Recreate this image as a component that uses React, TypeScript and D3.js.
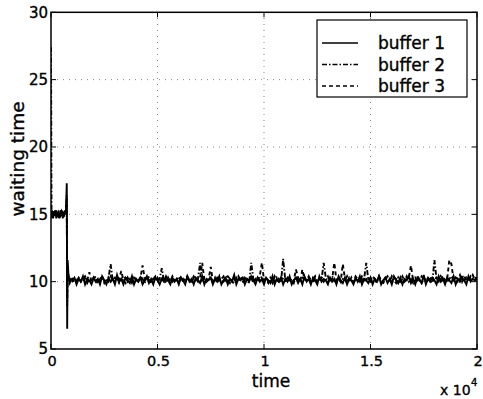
import React from "react";
import * as d3 from "d3";

// ---- data ----
const earlyTimes = [0, 25, 50, 100, 150, 200, 250, 300, 350, 400, 450, 500, 550, 600, 650, 700, 740, 760, 780, 820, 880, 940];
const steadyStart = 1000;
const steadyStep = 100;

const buffer1Early = [15.2, 14.8, 15.3, 14.7, 15.2, 14.9, 15.3, 14.8, 15.1, 14.7, 15.3, 14.9, 15.2, 14.8, 15.3, 15.0, 17.3, 6.5, 11.6, 10.5, 10.0, 10.2];
const buffer2Early = [27.4, 15.1, 14.8, 15.2, 14.9, 15.3, 14.7, 15.1, 15.2, 14.8, 15.0, 15.3, 14.7, 15.1, 14.9, 15.2, 16.4, 8.2, 11.2, 10.3, 10.1, 9.9];
const buffer3Early = [15.0, 14.9, 15.2, 14.8, 15.1, 15.3, 14.9, 15.2, 14.7, 15.1, 14.8, 15.2, 15.0, 14.9, 15.1, 15.2, 15.9, 8.8, 10.9, 10.4, 9.9, 10.1];

const buffer1Steady = [
  10.1, 10.3, 9.8, 10.2, 10.0, 10.4, 9.8, 10.2, 10.1, 9.8,
  10.3, 10.0, 10.2, 9.8, 10.4, 10.1, 9.8, 10.3, 10.0, 10.2,
  9.8, 10.5, 10.0, 10.2, 9.8, 10.3, 10.1, 9.9, 10.4, 9.8,
  10.2, 10.0, 10.3, 9.8, 10.1, 10.4, 9.9, 10.2, 9.8, 10.3,
  10.1, 9.8, 10.2, 10.0, 10.4, 10.1, 9.8, 10.3, 10.0, 10.2,
  9.8, 10.3, 10.1, 9.8, 10.4, 10.0, 10.2, 9.8, 10.3, 10.1,
  9.9, 10.4, 9.8, 10.2, 10.1, 10.3, 9.8, 10.2, 10.0, 10.4,
  9.8, 10.1, 10.3, 9.8, 10.2, 10.0, 10.5, 9.8, 10.2, 10.1,
  10.3, 9.8, 10.2, 10.0, 10.4, 10.1, 9.8, 10.3, 10.0, 10.2,
  9.8, 10.3, 10.1, 9.9, 10.4, 9.8, 10.2, 10.0, 10.3, 9.8,
  10.2, 10.0, 10.4, 9.8, 10.1, 10.3, 9.9, 10.2, 9.8, 10.4,
  10.0, 10.2, 9.8, 10.3, 10.1, 9.8, 10.4, 10.0, 10.2, 10.1,
  9.8, 10.3, 10.0, 10.2, 9.8, 10.4, 10.1, 9.9, 10.3, 9.8,
  10.2, 10.1, 9.8, 10.3, 10.0, 10.4, 9.8, 10.2, 10.1, 9.9,
  10.3, 9.8, 10.2, 10.0, 10.4, 9.8, 10.1, 10.3, 9.9, 10.2,
  9.8, 10.4, 10.1, 9.9, 10.3, 9.8, 10.2, 10.1, 10.4, 9.9,
  10.2, 9.8, 10.3, 10.1, 9.9, 10.5, 9.8, 10.2, 10.0, 10.3,
  10.1, 9.8, 10.4, 10.0, 10.2, 9.8, 10.3, 10.1, 9.9, 10.4,
  9.8, 10.2, 10.0, 10.3, 10.1, 9.8, 10.4, 10.0, 10.2, 10.1,
  10.2,
];

const buffer2Steady = [
  10.0, 10.2, 9.9, 10.3, 10.1, 10.0, 10.4, 9.9, 10.2, 10.1,
  10.3, 10.0, 9.9, 10.2, 10.4, 10.0, 10.1, 10.3, 11.3, 10.1,
  10.0, 10.3, 9.9, 10.2, 10.1, 10.4, 10.0, 10.2, 9.9, 10.3,
  10.1, 10.0, 10.4, 10.2, 9.9, 10.3, 10.1, 10.0, 10.2, 10.4,
  10.0, 10.2, 11.0, 10.1, 9.9, 10.3, 10.0, 10.4, 10.1, 10.2,
  9.9, 10.3, 10.0, 10.2, 10.4, 10.1, 9.9, 10.3, 10.0, 10.2,
  11.4, 10.1, 10.3, 10.0, 10.2, 10.4, 9.9, 10.1, 10.3, 10.0,
  10.2, 10.4, 10.0, 10.1, 9.9, 10.3, 10.2, 10.0, 10.4, 10.1,
  10.0, 10.3, 10.1, 9.9, 11.4, 10.2, 10.0, 10.3, 10.1, 10.4,
  10.0, 10.2, 9.9, 10.3, 10.1, 10.0, 10.4, 10.2, 10.0, 11.7,
  10.1, 10.3, 10.0, 10.2, 9.9, 10.4, 10.1, 10.0, 10.3, 10.2,
  10.0, 10.4, 10.1, 9.9, 10.3, 10.0, 10.2, 10.1, 11.4, 10.3,
  10.0, 10.2, 10.4, 10.1, 9.9, 10.3, 10.0, 10.2, 10.1, 10.4,
  10.0, 10.3, 9.9, 10.2, 10.1, 10.0, 10.4, 10.2, 11.4, 10.1,
  10.3, 10.0, 10.2, 9.9, 10.4, 10.1, 10.0, 10.3, 10.2, 10.0,
  10.4, 10.1, 9.9, 10.3, 10.0, 10.2, 10.1, 10.4, 10.0, 10.2,
  9.9, 10.3, 10.1, 10.0, 10.4, 10.2, 10.0, 10.3, 10.1, 9.9,
  11.6, 10.2, 10.0, 10.4, 10.1, 10.3, 10.0, 10.2, 10.4, 10.1,
  10.3, 10.0, 10.2, 10.5, 10.1, 10.3, 10.0, 10.4, 10.2, 10.3,
  10.2,
];

const buffer3Steady = [
  10.2, 9.9, 10.1, 10.3, 10.0, 10.2, 10.4, 10.1, 10.7, 10.0,
  10.2, 10.4, 10.0, 10.1, 10.3, 9.9, 10.2, 10.0, 10.4, 10.1,
  10.3, 10.0, 10.2, 10.8, 10.1, 9.9, 10.3, 10.0, 10.2, 10.4,
  10.0, 10.1, 10.3, 11.2, 10.2, 10.0, 10.4, 9.9, 10.2, 10.1,
  10.3, 10.0, 10.2, 10.4, 10.1, 9.9, 10.3, 10.0, 10.2, 10.1,
  10.4, 10.0, 10.2, 9.9, 10.3, 10.1, 10.0, 10.4, 10.2, 10.0,
  10.3, 11.4, 10.1, 10.0, 10.2, 11.1, 10.0, 10.3, 9.9, 10.2,
  10.1, 10.0, 10.3, 10.4, 10.2, 10.0, 9.9, 10.3, 10.1, 10.2,
  10.4, 10.0, 10.2, 10.1, 10.3, 9.9, 10.2, 10.0, 10.4, 11.4,
  10.1, 10.3, 10.0, 10.2, 9.9, 10.4, 10.1, 10.0, 10.3, 10.2,
  10.0, 10.4, 10.2, 9.9, 10.1, 10.9, 10.3, 10.0, 10.9, 10.2,
  10.1, 10.3, 10.0, 10.2, 10.4, 9.9, 10.1, 10.3, 10.0, 10.2,
  10.4, 10.0, 10.2, 11.4, 10.1, 10.3, 10.0, 11.3, 10.2, 9.9,
  10.3, 10.1, 10.0, 10.4, 10.2, 10.0, 10.3, 9.9, 10.2, 10.1,
  10.0, 10.4, 10.2, 10.1, 10.3, 10.0, 9.9, 10.2, 10.4, 10.1,
  10.0, 10.3, 10.2, 9.9, 10.1, 10.4, 10.0, 10.2, 10.3, 11.2,
  10.1, 10.0, 10.4, 10.2, 9.9, 10.3, 10.1, 10.0, 10.2, 10.4,
  10.0, 10.3, 10.1, 10.2, 10.4, 10.0, 10.2, 11.6, 11.3, 10.1,
  10.3, 10.2, 10.5, 10.0, 10.4, 10.1, 10.3, 10.2, 10.5, 10.1,
  10.3,
];

const seriesNames = ["buffer 1", "buffer 2", "buffer 3"];
const xTicks = [0, 5000, 10000, 15000, 20000];
const xTickLabels = ["0", "0.5", "1", "1.5", "2"];
const yTicks = [5, 10, 15, 20, 25, 30];

// ---- layout ----
const W = 483;
const H = 399;
const x = d3.scaleLinear().domain([0, 20000]).range([51, 477]);
const y = d3.scaleLinear().domain([5, 30]).range([349, 12.3]);
const FONT = "'DejaVu Sans', sans-serif";
const dashes = ["none", "5 2 1.5 2", "4 3"];
const TXT = { fill: "#000", stroke: "#000", strokeWidth: 0.35 };

function buildSeries(early: number[], steady: number[]): [number, number][] {
  const pts: [number, number][] = early.map((v, i) => [earlyTimes[i], v]);
  steady.forEach((v, i) => pts.push([steadyStart + i * steadyStep, v]));
  return pts;
}

const allSeries = [
  buildSeries(buffer1Early, buffer1Steady),
  buildSeries(buffer2Early, buffer2Steady),
  buildSeries(buffer3Early, buffer3Steady),
];

export default function App() {
  const line = d3
    .line<[number, number]>()
    .x((d) => x(d[0]))
    .y((d) => y(d[1]));
  const [x0, x1] = x.range();
  const [yb, yt] = y.range();
  const tick = 5;

  return (
    <svg
      width={W}
      height={H}
      style={{ position: "absolute", left: 0, top: 0, background: "#fff" }}
      fontFamily={FONT}
    >
      <rect x={0} y={0} width={W} height={H} fill="#fff" />
      <defs>
        <clipPath id="plot">
          <rect x={x0} y={yt} width={x1 - x0} height={yb - yt} />
        </clipPath>
      </defs>
      {/* grid */}
      {xTicks.slice(1, -1).map((t) => (
        <line key={"gx" + t} x1={x(t)} x2={x(t)} y1={yb} y2={yt} stroke="#888" strokeWidth={1} strokeDasharray="1 5" />
      ))}
      {yTicks.slice(1, -1).map((t) => (
        <line key={"gy" + t} x1={x0} x2={x1} y1={y(t)} y2={y(t)} stroke="#888" strokeWidth={1} strokeDasharray="1 5" />
      ))}
      {/* data */}
      <g clipPath="url(#plot)">
        {allSeries.map((s, i) => (
          <path key={i} d={line(s) || ""} fill="none" stroke="#000" strokeWidth={1.9} strokeDasharray={dashes[i]} />
        ))}
      </g>
      {/* box */}
      <rect x={x0} y={yt} width={x1 - x0} height={yb - yt} fill="none" stroke="#000" strokeWidth={1.5} />
      {/* ticks */}
      {xTicks.map((t) => (
        <g key={"tx" + t}>
          <line x1={x(t)} x2={x(t)} y1={yb} y2={yb - tick} stroke="#000" />
          <line x1={x(t)} x2={x(t)} y1={yt} y2={yt + tick} stroke="#000" />
        </g>
      ))}
      {yTicks.map((t) => (
        <g key={"ty" + t}>
          <line x1={x0} x2={x0 + tick} y1={y(t)} y2={y(t)} stroke="#000" />
          <line x1={x1} x2={x1 - tick} y1={y(t)} y2={y(t)} stroke="#000" />
        </g>
      ))}
      {/* tick labels */}
      {xTicks.map((t, i) => (
        <text key={"lx" + t} x={x(t) + 1} y={366} textAnchor="middle" fontSize={14.5} {...TXT}>
          {xTickLabels[i]}
        </text>
      ))}
      {yTicks.map((t) => (
        <text key={"ly" + t} x={48} y={y(t)} dy="0.36em" textAnchor="end" fontSize={15} {...TXT}>
          {t}
        </text>
      ))}
      {/* axis labels */}
      <text x={271} y={387} textAnchor="middle" fontSize={17} {...TXT}>
        time
      </text>
      <text transform={`translate(24,159) rotate(-90)`} textAnchor="middle" fontSize={18.5} {...TXT}>
        waiting time
      </text>
      <text x={440} y={395} fontSize={14} {...TXT}>
        x 10
      </text>
      <text x={471} y={386} fontSize={10} {...TXT}>
        4
      </text>
      {/* legend */}
      <rect x={317} y={20} width={150} height={77} fill="#fff" stroke="#000" strokeWidth={1.2} />
      {seriesNames.map((name, i) => (
        <g key={name}>
          <line x1={322} x2={358} y1={43 + i * 21.5} y2={43 + i * 21.5} stroke="#000" strokeWidth={1.3} strokeDasharray={dashes[i]} />
          <text x={378} y={49 + i * 21.5} fontSize={17} {...TXT}>
            {name}
          </text>
        </g>
      ))}
    </svg>
  );
}
